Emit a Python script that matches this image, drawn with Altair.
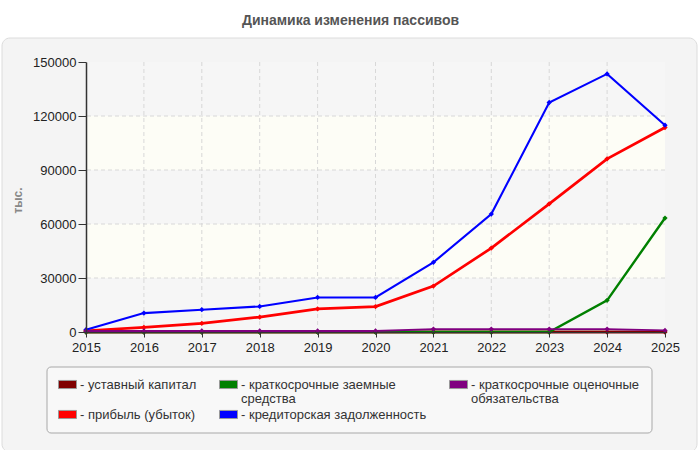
import altair as alt
import pandas as pd

years = [2015, 2016, 2017, 2018, 2019, 2020, 2021, 2022, 2023, 2024, 2025]
ustavny = [10, 10, 10, 10, 10, 10, 10, 10, 10, 10, 10]
pribyl = [700, 2600, 4800, 8300, 12800, 14100, 25500, 46600, 71200, 96200, 113600]
zaemnye = [0, 0, 0, 0, 0, 0, 0, 0, 0, 17600, 63300]
kredit = [1300, 10500, 12400, 14200, 19200, 19200, 38700, 65500, 127500, 143400, 114900]
ocenoch = [550, 550, 550, 550, 550, 550, 1650, 1650, 1650, 1650, 900]

y_ticks = [0, 30000, 60000, 90000, 120000, 150000]

series_names = [
    "уставный капитал",
    "прибыль (убыток)",
    "краткосрочные заемные средства",
    "кредиторская задолженность",
    "краткосрочные оценочные обязательства",
]
series_values = [ustavny, pribyl, zaemnye, kredit, ocenoch]
series_colors = ["#800000", "#ff0000", "#008000", "#0000ff", "#800080"]
series_widths = [3, 1.8, 1.8, 1.8, 3]

# legend order (row-major in 3 columns)
legend_order = [series_names[0], series_names[2], series_names[4], series_names[1], series_names[3]]

band_lo = [0, 30000, 60000, 90000, 120000]
band_hi = [30000, 60000, 90000, 120000, 150000]
band_kind = ["h", "c", "h", "c", "h"]

rows = []
for name, vals in zip(series_names, series_values):
    for y, v in zip(years, vals):
        rows.append({"year": y, "value": v, "series": name})
df = pd.DataFrame(rows)
bands = pd.DataFrame({"lo": band_lo, "hi": band_hi, "kind": band_kind})

W, H = 579, 270
FONT = "Liberation Sans"

xscale = alt.Scale(domain=[2015, 2025], nice=False, zero=False)
yscale = alt.Scale(domain=[0, 150000], nice=False)

xaxis = alt.Axis(values=years, format="d", title=None, grid=False, zindex=1,
                 domainColor="#333", domainWidth=1,
                 tickColor="#333", tickSize=5, labelFontSize=13, labelColor="#222",
                 labelFont=FONT, labelPadding=4, labelFlush=False)
yaxis = alt.Axis(values=y_ticks, format="d", zindex=1,
                 title="тыс.", titleFont=FONT, titleFontSize=12, titleFontWeight="bold",
                 titleColor="#888", titleAngle=270, titleX=-69, titleY=138,
                 titleAlign="center", titleBaseline="middle", grid=False,
                 domainColor="#333", domainWidth=1.5, tickColor="#333", tickSize=8,
                 labelFontSize=13, labelColor="#222", labelFont=FONT, labelPadding=2)

panel = alt.Chart(pd.DataFrame({"a": [0]})).mark_rect(
    fill="#f4f4f4", stroke="#dcdcdc", strokeWidth=1, cornerRadius=8, clip=False
).encode(x=alt.value(-84), x2=alt.value(611), y=alt.value(-24), y2=alt.value(390))

legend_box = alt.Chart(pd.DataFrame({"a": [0]})).mark_rect(
    fill="#f8f8f8", stroke="#a8a8a8", strokeWidth=1, cornerRadius=4, clip=False
).encode(x=alt.value(-39), x2=alt.value(566), y=alt.value(305), y2=alt.value(371))

band_layer = alt.Chart(bands).mark_rect().encode(
    x=alt.value(0), x2=alt.value(W),
    y=alt.Y("lo:Q", scale=yscale, axis=yaxis),
    y2="hi:Q",
    fill=alt.Fill("kind:N", scale=alt.Scale(domain=["h", "c"], range=["#f6f6f6", "#fdfdf6"]), legend=None),
)

ygrid = alt.Chart(pd.DataFrame({"v": y_ticks[1:-1]})).mark_rule(
    color="#d8d8d8", strokeDash=[4, 3], strokeWidth=1
).encode(y=alt.Y("v:Q", scale=yscale, axis=yaxis))

xgrid = alt.Chart(pd.DataFrame({"v": years[1:-1]})).mark_rule(
    color="#d8d8d8", strokeDash=[4, 3], strokeWidth=1
).encode(x=alt.X("v:Q", scale=xscale, axis=xaxis))

lines = alt.Chart(df).mark_line(clip=False).encode(
    x=alt.X("year:Q", scale=xscale, axis=xaxis),
    y=alt.Y("value:Q", scale=yscale, axis=yaxis),
    color=alt.Color("series:N", scale=alt.Scale(domain=series_names, range=series_colors), legend=None),
    strokeWidth=alt.StrokeWidth("series:N", scale=alt.Scale(domain=series_names, range=series_widths), legend=None),
)

pad = "\u00a0" * 34
label_expr = (
    "datum.label == 'краткосрочные заемные средства' ? ['- краткосрочные заемные', '\u00a0\u00a0средства" + pad + "'] : "
    "datum.label == 'краткосрочные оценочные обязательства' ? ['- краткосрочные оценочные', '\u00a0\u00a0обязательства'] : "
    "'- ' + datum.label"
)

points = alt.Chart(df).mark_point(filled=True, shape="diamond", size=28, opacity=1, clip=False).encode(
    x=alt.X("year:Q", scale=xscale, axis=xaxis),
    y=alt.Y("value:Q", scale=yscale, axis=yaxis),
    fill=alt.Fill("series:N",
                  scale=alt.Scale(domain=legend_order,
                                  range=[series_colors[series_names.index(n)] for n in legend_order]),
                  legend=alt.Legend(orient="none", legendX=-28, legendY=313, title=None,
                                    columns=3, direction="horizontal", gridAlign="none",
                                    columnPadding=20, rowPadding=-1,
                                    symbolType="M-1,-0.45L1,-0.45L1,0.45L-1,0.45Z", symbolSize=324,
                                    symbolStrokeColor="#999", symbolStrokeWidth=1,
                                    labelFont=FONT, labelFontSize=13, labelColor="#333",
                                    labelOffset=3, labelLimit=400, labelExpr=label_expr, padding=0)),
)

chart = alt.layer(panel, legend_box, band_layer, ygrid, xgrid, lines, points).resolve_scale(
    fill="independent"
).properties(
    width=W, height=H,
    autosize=alt.AutoSizeParams(type="none"),
    padding={"left": 86, "top": 62, "right": 35, "bottom": 118},
    background="#ffffff",
    title=alt.TitleParams("Динамика изменения пассивов", font=FONT, fontSize=14, fontWeight="bold",
                          color="#555", anchor="middle", dx=-25, offset=10),
).configure(style={"guide-label": {"lineHeight": 14}}).configure_view(stroke="#dcdcdc")

chart.save("out.html", embed_options={"renderer": "svg", "actions": False})
